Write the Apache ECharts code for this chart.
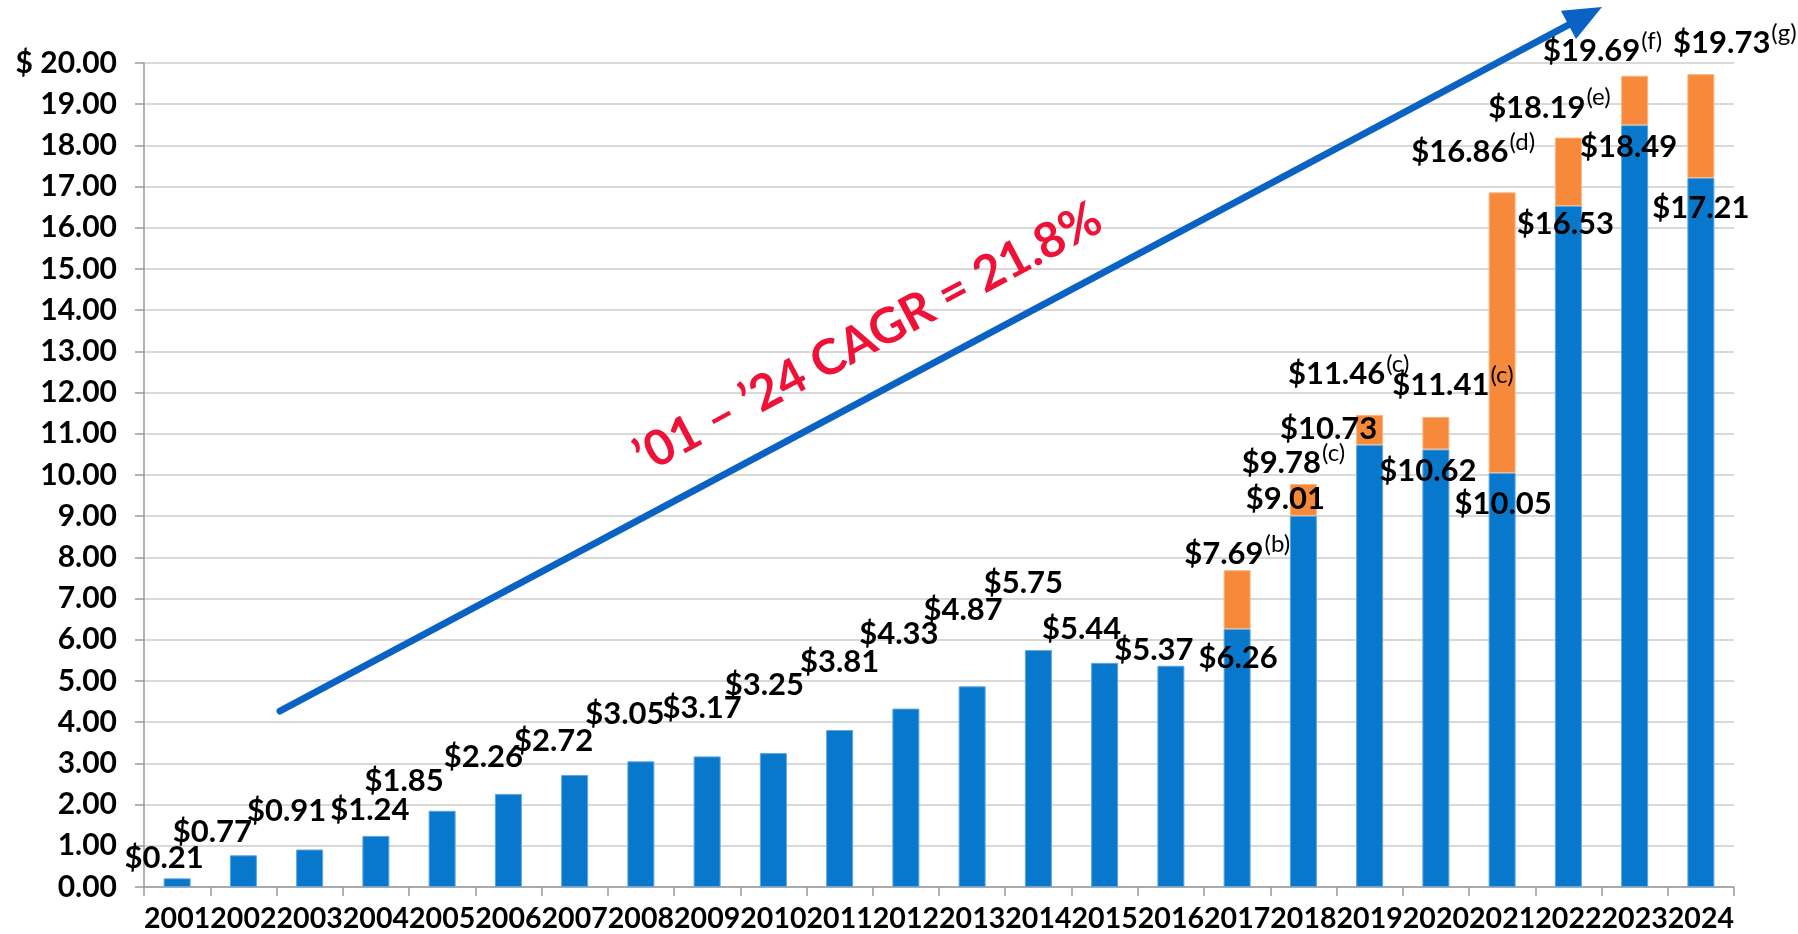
<!DOCTYPE html>
<html><head><meta charset="utf-8">
<script src="https://cdn.jsdelivr.net/npm/echarts/dist/echarts.min.js"></script>
<style>html,body{margin:0;padding:0;background:#fff}#c{width:1798px;height:934px}</style>
</head><body><div id="c"></div>
<script>
// ---- data ----
const years = ['2001','2002','2003','2004','2005','2006','2007','2008','2009','2010','2011','2012','2013','2014','2015','2016','2017','2018','2019','2020','2021','2022','2023','2024'];
const baseValues = [0.21,0.77,0.91,1.24,1.85,2.26,2.72,3.05,3.17,3.25,3.81,4.33,4.87,5.75,5.44,5.37,6.26,9.01,10.73,10.62,10.05,16.53,18.49,17.21];
const totalValues = [null,null,null,null,null,null,null,null,null,null,null,null,null,null,null,null,7.69,9.78,11.46,11.41,16.86,18.19,19.69,19.73];
const totalNotes = ['','','','','','','','','','','','','','','','','(b)','(c)','(c)','(c)','(d)','(e)','(f)','(g)'];
const yTickValues = [0,1,2,3,4,5,6,7,8,9,10,11,12,13,14,15,16,17,18,19,20];
const cagrText = "\u201901 \u2013 \u201924 CAGR = 21.8%";

// ---- layout (label nudges in px, relative to bar top centre) ----
const baseLabelShift = [[-13,-20],[-31,-23],[-23,-39],[-6,-26],[-38,-30],[-25,-37],[-21,-34],[-16,-47],[-5,-48],[-9,-68],[0,-68],[-7,-75],[-9,-76],[-15,-67],[-23,-34],[-17,-16],[1,29],[-18,-17],[-41,-16],[-8,22],[1,31],[-3,18],[-6,22],[0,30]];
const totalLabelShift = {16:[0,-16],17:[-10,-21],18:[-21,-41],19:[17,-32],20:[-29,-40],21:[-19,-30],22:[-32,-25],23:[34,-31]};

const extraValues = totalValues.map((t,i)=> t==null ? null : +(t - baseValues[i]).toFixed(2));

const FONT = 'Lato';
const chart = echarts.init(document.getElementById('c'), null, {renderer:'canvas'});

// arrow geometry (annotation)
const aStart=[280,711], aTip=[1602,7], headLen=38, headHalf=16;
const dx=aTip[0]-aStart[0], dy=aTip[1]-aStart[1], L=Math.hypot(dx,dy), ux=dx/L, uy=dy/L, nx=-uy, ny=ux;
const hb=[aTip[0]-headLen*ux, aTip[1]-headLen*uy];
const angle=Math.atan2(-dy,dx);

const option = {
  animation:false,
  textStyle:{fontFamily:FONT},
  grid:{left:144,right:64,top:63,bottom:47,containLabel:false},
  xAxis:{
    type:'category', data:years,
    axisLine:{lineStyle:{color:'#9a9a9a',width:1.5}},
    axisTick:{show:true,alignWithLabel:false,length:9,lineStyle:{color:'#9a9a9a',width:1.5}},
    axisLabel:{interval:0,margin:17,fontSize:28.5,fontWeight:'bold',color:'#000',fontFamily:FONT}
  },
  yAxis:{
    type:'value', min:0, max:20, interval:1,
    axisLine:{show:true,lineStyle:{color:'#9a9a9a',width:1.5}},
    axisTick:{show:true,length:9,lineStyle:{color:'#9a9a9a',width:1.5}},
    splitLine:{lineStyle:{color:'#d9d9d9',width:2}},
    axisLabel:{margin:27,fontSize:30,fontWeight:'bold',color:'#000',fontFamily:FONT,
      formatter:v=> v===20 ? '$ 20.00' : v.toFixed(2)}
  },
  series:[
    {
      type:'bar', stack:'s', barWidth:27,
      itemStyle:{color:'#0878cc',borderColor:'#5ea6e2',borderWidth:1},
      data:baseValues.map((v,i)=>({value:v,label:{offset:baseLabelShift[i]}})),
      label:{show:true,position:['50%',0],align:'center',verticalAlign:'middle',
        fontSize:31,fontWeight:'bold',color:'#000',fontFamily:FONT,
        formatter:p=>'$'+p.value.toFixed(2)},
      z:2
    },
    {
      type:'bar', stack:'s', barWidth:27,
      itemStyle:{color:'#f7893b',borderColor:'#fbb782',borderWidth:1},
      data:extraValues.map((v,i)=> v==null ? null : ({value:v,label:{offset:totalLabelShift[i]}})),
      label:{show:true,position:['50%',0],align:'center',verticalAlign:'middle',color:'#000',
        formatter:p=>'{a|$'+totalValues[p.dataIndex].toFixed(2)+'}{s|'+totalNotes[p.dataIndex]+'}',
        rich:{
          a:{fontSize:31,fontWeight:'bold',color:'#000',fontFamily:FONT,lineHeight:44},
          s:{fontSize:24,fontWeight:'normal',color:'#000',fontFamily:FONT,lineHeight:24,verticalAlign:'top',padding:[0,0,0,1]}
        }},
      z:2
    }
  ],
  graphic:[
    {type:'line',z:100,shape:{x1:aStart[0],y1:aStart[1],x2:hb[0]+4*ux,y2:hb[1]+4*uy},
      style:{stroke:'#0a62c4',lineWidth:7,lineCap:'round'}},
    {type:'polygon',z:100,shape:{points:[aTip,[hb[0]+headHalf*nx,hb[1]+headHalf*ny],[hb[0]-headHalf*nx,hb[1]-headHalf*ny]]},
      style:{fill:'#0a62c4'}},
    {type:'text',z:100,x:868,y:338,rotation:angle,
      style:{text:cagrText,fill:'#ef1238',font:'bold 49px '+FONT,align:'center',verticalAlign:'middle'}}
  ]
};
chart.setOption(option);
</script></body></html>
